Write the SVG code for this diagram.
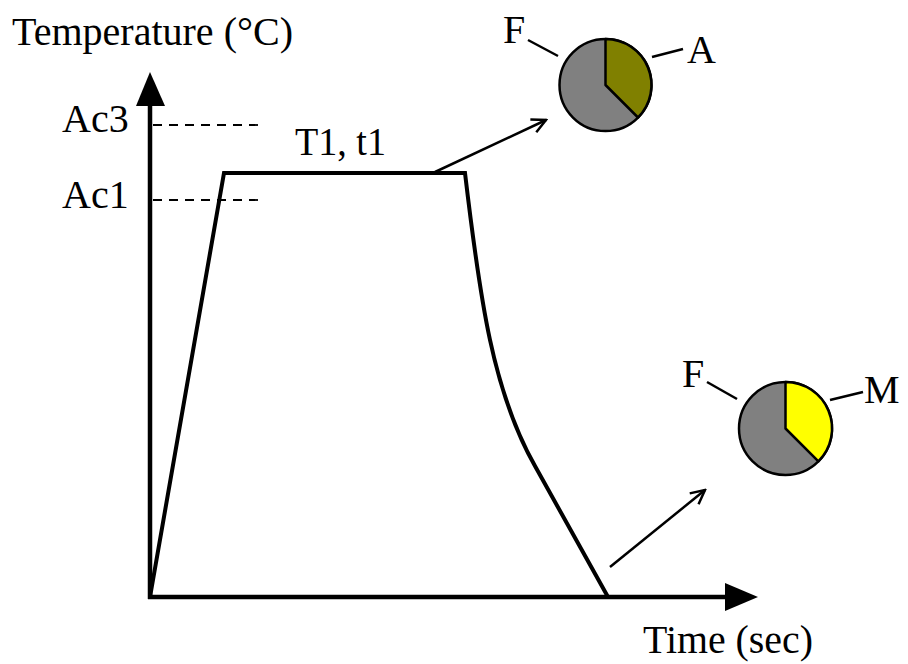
<svg xmlns="http://www.w3.org/2000/svg" width="908" height="664" viewBox="0 0 908 664">
<defs>
<style>
.ax{stroke:#000;stroke-width:4.5;fill:none}
.curve{stroke:#000;stroke-width:4;fill:none;stroke-linejoin:miter}
.dash{stroke:#000;stroke-width:1.8;stroke-dasharray:9 7;fill:none}
.thin{stroke:#000;stroke-width:2.5;fill:none}
.pie{stroke:#000;stroke-width:2.5;stroke-linejoin:round}
</style>
<marker id="open" viewBox="0 0 20 20" refX="18" refY="10" markerWidth="20" markerHeight="20" markerUnits="userSpaceOnUse" orient="auto">
<path d="M4,3 L18,10 L4,17" fill="none" stroke="#000" stroke-width="2.5"/>
</marker>
</defs>
<rect width="908" height="664" fill="#fff"/>
<g font-family="'Liberation Serif', 'DejaVu Serif', serif" font-size="40" fill="#000">
<g id="axes">
<line class="ax" x1="150" y1="599" x2="150" y2="100"/>
<polygon points="150,72 136,106 165,106" fill="#000"/>
<line class="ax" x1="148" y1="597" x2="730" y2="597"/>
<polygon points="758,597 725,583 725,611" fill="#000"/>
<text x="12" y="45" textLength="281" lengthAdjust="spacingAndGlyphs">Temperature (°C)</text>
<text x="643" y="653" textLength="170" lengthAdjust="spacingAndGlyphs">Time (sec)</text>
</g>
<g id="levels">
<line class="dash" x1="153" y1="125" x2="258" y2="125"/>
<line class="dash" x1="153" y1="200" x2="258" y2="200"/>
<text x="62" y="132">Ac3</text>
<text x="62" y="208">Ac1</text>
</g>
<g id="profile">
<path class="curve" d="M150,597 L224,173 L465,173 C480,300 493,392 535,466 L608,597"/>
<text x="295" y="155" textLength="91" lengthAdjust="spacingAndGlyphs">T1, t1</text>
</g>
<g id="connectors">
<line class="thin" x1="435" y1="172" x2="546" y2="120" marker-end="url(#open)"/>
<line class="thin" x1="610" y1="567" x2="705" y2="490" marker-end="url(#open)"/>
</g>
<g id="pie1">
<circle class="pie" cx="605.5" cy="85" r="46" fill="#808080"/>
<path class="pie" d="M605.5,85 L605.5,39 A46,46 0 0 1 638,117.5 Z" fill="#808000"/>
<line class="thin" x1="528" y1="40" x2="558" y2="56"/>
<line class="thin" x1="652" y1="57" x2="683" y2="49"/>
<text x="503" y="43">F</text>
<text x="687" y="63">A</text>
</g>
<g id="pie2">
<circle class="pie" cx="785.5" cy="428.5" r="46.5" fill="#808080"/>
<path class="pie" d="M785.5,428.5 L785.5,382 A46.5,46.5 0 0 1 818.4,461.4 Z" fill="#ffff00"/>
<line class="thin" x1="707" y1="382" x2="737" y2="399"/>
<line class="thin" x1="830" y1="400" x2="863" y2="392"/>
<text x="682" y="387">F</text>
<text x="864" y="403">M</text>
</g>
</g>
</svg>
